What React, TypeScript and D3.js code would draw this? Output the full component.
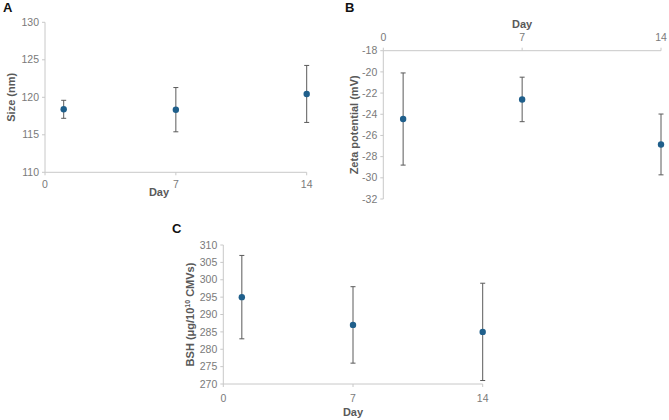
import * as d3 from 'd3';

// Sampling days
const days = [1, 7, 14];
const dayTicks = [0, 7, 14];

// Panel A: particle size (nm)
const sizeMean = [118.4, 118.35, 120.45];
const sizeErr = [1.2, 2.95, 3.8];
const sizeTicks = [110, 115, 120, 125, 130];

// Panel B: zeta potential (mV)
const zetaMean = [-24.45, -22.6, -26.85];
const zetaErr = [4.35, 2.1, 2.87];
const zetaTicks = [-18, -20, -22, -24, -26, -28, -30, -32];

// Panel C: BSH activity
const bshMean = [295, 287, 285];
const bshErr = [12, 11, 14];
const bshTicks = [270, 275, 280, 285, 290, 295, 300, 305, 310];

const FONT = "'Liberation Sans', Arial, sans-serif";
const AXIS = '#c8c8c8';
const TICK_TXT = '#7a7a7a';
const LABEL = '#595959';
const BAR = '#5a5a5a';
const DOT = '#1f5f8b';

interface PanelProps {
  letter: string;
  letterPos: [number, number];
  left: number;
  right: number;
  top: number;
  bottom: number;
  yDomain: [number, number];
  yTicks: number[];
  means: number[];
  errs: number[];
  yLabel: React.ReactNode;
  yLabelX: number;
  xAxisTop?: boolean;
  xLabelX?: number;
  xLabelY: number;
  xTickGap?: number;
}

function Panel(p: PanelProps) {
  const x = d3.scaleLinear().domain([0, 14]).range([p.left, p.right]);
  const y = d3.scaleLinear().domain(p.yDomain).range([p.bottom, p.top]);
  const axisY = p.xAxisTop ? p.top : p.bottom;
  const midY = (p.top + p.bottom) / 2;
  const gap = p.xTickGap ?? 16;
  return (
    <g fontFamily={FONT}>
      <text x={p.letterPos[0]} y={p.letterPos[1]} fontSize={13} fontWeight="bold" fill="#111">
        {p.letter}
      </text>
      {/* y axis */}
      <line x1={p.left} x2={p.left} y1={p.top} y2={p.bottom} stroke={AXIS} />
      {p.yTicks.map(t => (
        <g key={t}>
          <line x1={p.left - 3} x2={p.left} y1={y(t)} y2={y(t)} stroke={AXIS} />
          <text x={p.left - 6} y={y(t)} dy="0.35em" textAnchor="end" fontSize={10.5} fill={TICK_TXT}>
            {t}
          </text>
        </g>
      ))}
      {/* x axis */}
      <line x1={p.left} x2={p.right} y1={axisY} y2={axisY} stroke={AXIS} />
      {dayTicks.map(t => (
        <g key={t}>
          <line
            x1={x(t)}
            x2={x(t)}
            y1={axisY}
            y2={p.xAxisTop ? axisY - 3 : axisY + 3}
            stroke={AXIS}
          />
          <text
            x={x(t)}
            y={p.xAxisTop ? axisY - 10 : axisY + gap}
            textAnchor="middle"
            fontSize={10.5}
            fill={TICK_TXT}
          >
            {t}
          </text>
        </g>
      ))}
      <text
        x={p.xLabelX ?? (p.left + p.right) / 2}
        y={p.xLabelY}
        textAnchor="middle"
        fontSize={11}
        fontWeight="bold"
        fill={LABEL}
      >
        Day
      </text>
      <text
        transform={`translate(${p.yLabelX},${midY}) rotate(-90)`}
        textAnchor="middle"
        fontSize={11}
        fontWeight="bold"
        fill={LABEL}
      >
        {p.yLabel}
      </text>
      {/* error bars and points */}
      {days.map((d, i) => {
        const cx = x(d);
        const hi = y(p.means[i] + p.errs[i]);
        const lo = y(p.means[i] - p.errs[i]);
        return (
          <g key={d}>
            <line x1={cx} x2={cx} y1={hi} y2={lo} stroke={BAR} strokeWidth={1} />
            <line x1={cx - 2.5} x2={cx + 2.5} y1={hi} y2={hi} stroke={BAR} />
            <line x1={cx - 2.5} x2={cx + 2.5} y1={lo} y2={lo} stroke={BAR} />
            <circle cx={cx} cy={y(p.means[i])} r={3.2} fill={DOT} />
          </g>
        );
      })}
    </g>
  );
}

export default function App() {
  return (
    <svg
      width={669}
      height={420}
      style={{ position: 'absolute', left: 0, top: 0, background: '#fff' }}
    >
      <Panel
        letter="A"
        letterPos={[3, 12]}
        left={45}
        right={306.7}
        top={22.3}
        bottom={172.3}
        yDomain={[110, 130]}
        yTicks={sizeTicks}
        means={sizeMean}
        errs={sizeErr}
        yLabel="Size (nm)"
        yLabelX={15}
        xLabelX={159}
        xLabelY={196}
      />
      <Panel
        letter="B"
        letterPos={[345, 12]}
        left={383.3}
        right={661}
        top={50.7}
        bottom={199}
        yDomain={[-32, -18]}
        yTicks={zetaTicks}
        means={zetaMean}
        errs={zetaErr}
        yLabel="Zeta potential (mV)"
        yLabelX={358}
        xAxisTop
        xLabelY={28}
      />
      <Panel
        letter="C"
        letterPos={[172, 233]}
        left={223.3}
        right={482.7}
        top={245}
        bottom={384}
        yDomain={[270, 310]}
        yTicks={bshTicks}
        means={bshMean}
        errs={bshErr}
        yLabel={
          <>
            BSH (μg/10
            <tspan dy={-4} fontSize={7}>
              10
            </tspan>
            <tspan dy={4}> CMVs)</tspan>
          </>
        }
        yLabelX={194}
        xLabelY={416}
        xTickGap={18}
      />
    </svg>
  );
}
